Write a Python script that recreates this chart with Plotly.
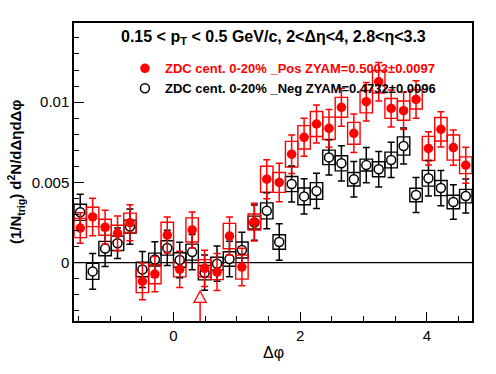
import math
import plotly.graph_objects as go

# ---- data ----
PHI = [-1.4726, -1.2763, -1.0799, -0.8836, -0.6872, -0.4909, -0.2945, -0.0982,
       0.0982, 0.2945, 0.4909, 0.6872, 0.8836, 1.0799, 1.2763, 1.4726,
       1.6690, 1.8653, 2.0617, 2.2580, 2.4544, 2.6507, 2.8471, 3.0434,
       3.2398, 3.4361, 3.6325, 3.8288, 4.0252, 4.2215, 4.4179, 4.6142]
BIN_WIDTH = 0.19635

POS = [0.00216, 0.00285, 0.00221, 0.00183, 0.00249, -0.00116, -0.00071, 0.00172,
       -0.00041, 0.00204, -0.00035, -0.00058, 0.00166, -0.00027, 0.00253, 0.00520,
       0.00500, 0.00676, 0.00781, 0.00864, 0.00837, 0.00968, 0.00806, 0.01003,
       0.01127, 0.00961, 0.00947, 0.01017, 0.00712, 0.00831, 0.00717, 0.00607]
POS_STAT = [0.00095, 0.00117, 0.00105, 0.00108, 0.00112, 0.00115, 0.00110, 0.00112,
            0.00113, 0.00112, 0.00113, 0.00115, 0.00118, 0.00117, 0.00118, 0.00122,
            0.00120, 0.00120, 0.00118, 0.00118, 0.00118, 0.00118, 0.00120, 0.00120,
            0.00120, 0.00115, 0.00117, 0.00117, 0.00104, 0.00110, 0.00110, 0.00112]
POS_SYS = [0.00060, 0.00060, 0.00050, 0.00050, 0.00060, 0.00070, 0.00060, 0.00080,
           0.00047, 0.00075, 0.00054, 0.00047, 0.00079, 0.00075, 0.00050, 0.00081,
           0.00062, 0.00080, 0.00073, 0.00078, 0.00070, 0.00062, 0.00068, 0.00070,
           0.00070, 0.00062, 0.00060, 0.00060, 0.00075, 0.00073, 0.00078, 0.00052]

NEG = [0.00314, -0.00054, 0.00088, 0.00121, 0.00225, -0.00042, 0.00020, 0.00092,
       0.00017, 0.00066, -0.00062, -0.00006, 0.00023, 0.00079, 0.00250, 0.00323,
       0.00129, 0.00490, 0.00413, 0.00447, 0.00656, 0.00619, 0.00520, 0.00608,
       0.00582, 0.00640, 0.00727, 0.00422, 0.00526, 0.00465, 0.00378, 0.00415]
NEG_STAT = [0.00112, 0.00112, 0.00112, 0.00095, 0.00110, 0.00112, 0.00110, 0.00110,
            0.00110, 0.00110, 0.00110, 0.00110, 0.00110, 0.00110, 0.00110, 0.00112,
            0.00114, 0.00112, 0.00110, 0.00110, 0.00110, 0.00110, 0.00110, 0.00110,
            0.00110, 0.00110, 0.00112, 0.00109, 0.00110, 0.00110, 0.00108, 0.00106]
NEG_SYS = [0.00050, 0.00050, 0.00045, 0.00045, 0.00040, 0.00045, 0.00040, 0.00045,
           0.00045, 0.00050, 0.00045, 0.00040, 0.00045, 0.00050, 0.00040, 0.00050,
           0.00045, 0.00047, 0.00052, 0.00052, 0.00045, 0.00047, 0.00042, 0.00037,
           0.00047, 0.00049, 0.00057, 0.00042, 0.00049, 0.00047, 0.00042, 0.00042]

POS_LABEL = "ZDC cent. 0-20% _Pos ZYAM=0.5003\u00b10.0097"
NEG_LABEL = "ZDC cent. 0-20% _Neg ZYAM=0.4732\u00b10.0096"
TITLE = "0.15 < p<sub>T</sub> < 0.5 GeV/c, 2<\u0394\u03b7<4, 2.8<\u03b7<3.3"
XTITLE = "\u0394\u03c6"
YTITLE = "(1/N<sub>trig</sub>) d<sup>2</sup>N/d\u0394\u03b7d\u0394\u03c6"

# ZYAM minimum marker (arrow)
ARROW_PHI = 0.42
ARROW_TIP = -0.00176
ARROW_BASE = -0.00247
ARROW_HALF = 0.097

X_RANGE = [-math.pi / 2, 3 * math.pi / 2]
Y_RANGE = [-0.00363, 0.01493]
X_TICKS = [0, 2, 4]
Y_TICKS = [0, 0.005, 0.01]
Y_TICKTEXT = ["0", "0.005", "0.01"]

FONT = "Liberation Sans, Arial, Helvetica, sans-serif"
RED = "#ff0000"
BLACK = "#000000"

fig = go.Figure()

shapes = []
# zero line
shapes.append(dict(type="line", xref="paper", yref="y", x0=0, x1=1, y0=0, y1=0,
                   line=dict(color=BLACK, width=1.2), layer="below"))
# systematic boxes
for vals, sys, col in [(NEG, NEG_SYS, BLACK), (POS, POS_SYS, RED)]:
    for p, v, s in zip(PHI, vals, sys):
        shapes.append(dict(type="rect", xref="x", yref="y",
                           x0=p - BIN_WIDTH / 2, x1=p + BIN_WIDTH / 2,
                           y0=v - s, y1=v + s,
                           line=dict(color=col, width=1.4),
                           fillcolor="rgba(0,0,0,0)", layer="below"))
# arrow
shapes.append(dict(type="line", xref="x", yref="y", x0=ARROW_PHI, x1=ARROW_PHI,
                   y0=Y_RANGE[0], y1=ARROW_BASE, line=dict(color=RED, width=1.5)))
shapes.append(dict(type="path", xref="x", yref="y",
                   path=f"M {ARROW_PHI - ARROW_HALF},{ARROW_BASE} L {ARROW_PHI},{ARROW_TIP} "
                        f"L {ARROW_PHI + ARROW_HALF},{ARROW_BASE} Z",
                   fillcolor="#eeeeee", line=dict(color=RED, width=1.2)))

fig.add_trace(go.Scatter(
    x=PHI, y=NEG, mode="markers", name=f"<b>{NEG_LABEL}</b>", legendrank=2,
    marker=dict(symbol="circle", size=9, color="white", line=dict(color=BLACK, width=1.5)),
    error_y=dict(type="data", array=NEG_STAT, visible=True, color=BLACK, thickness=1.5, width=3.5),
))
fig.add_trace(go.Scatter(
    x=PHI, y=POS, mode="markers", name=f"<b><span style='color:{RED}'>{POS_LABEL}</span></b>",
    legendrank=1,
    marker=dict(symbol="circle", size=9.5, color=RED, line=dict(width=0)),
    error_y=dict(type="data", array=POS_STAT, visible=True, color=RED, thickness=1.5, width=3.5),
))

axis_common = dict(showline=True, linecolor=BLACK, linewidth=1.5, mirror=True,
                   ticks="inside", tickcolor=BLACK, tickwidth=1, showgrid=False,
                   zeroline=False, tickfont=dict(family=FONT, size=15, color=BLACK))

fig.update_layout(
    width=496, height=374,
    margin=dict(l=74, r=24, t=23, b=53),
    paper_bgcolor="white", plot_bgcolor="white",
    font=dict(family=FONT, color=BLACK),
    shapes=shapes,
    xaxis=dict(range=X_RANGE, tickvals=X_TICKS, ticklen=9,
               minor=dict(dtick=0.5, tick0=0, ticks="inside", ticklen=5, tickcolor=BLACK),
               **axis_common),
    yaxis=dict(range=Y_RANGE, tickvals=Y_TICKS, ticktext=Y_TICKTEXT, ticklen=10,
               minor=dict(dtick=0.001, tick0=0, ticks="inside", ticklen=5, tickcolor=BLACK),
               **axis_common),
    showlegend=True,
    legend=dict(x=0.128, y=0.898, xanchor="left", yanchor="top",
                bgcolor="rgba(0,0,0,0)", borderwidth=0,
                font=dict(family=FONT, size=13, color=BLACK)),
    annotations=[
        dict(text=f"<b>{TITLE}</b>", xref="paper", yref="paper", x=0.5, y=0.953,
             xanchor="center", yanchor="middle", showarrow=False,
             font=dict(family=FONT, size=16, color=BLACK)),
        dict(text=XTITLE, xref="paper", yref="paper", x=0.5, y=-0.105,
             xanchor="center", yanchor="middle", showarrow=False,
             font=dict(family=FONT, size=16, color=BLACK)),
        dict(text=f"<b>{YTITLE}</b>", xref="paper", yref="paper", x=-0.148, y=0.5,
             xanchor="center", yanchor="middle", showarrow=False, textangle=-90,
             font=dict(family=FONT, size=15, color=BLACK)),
    ],
)

fig.write_html("out.html",
               config={"displayModeBar": False},
               post_script="document.body.style.margin='0';document.body.style.overflow='hidden';")
